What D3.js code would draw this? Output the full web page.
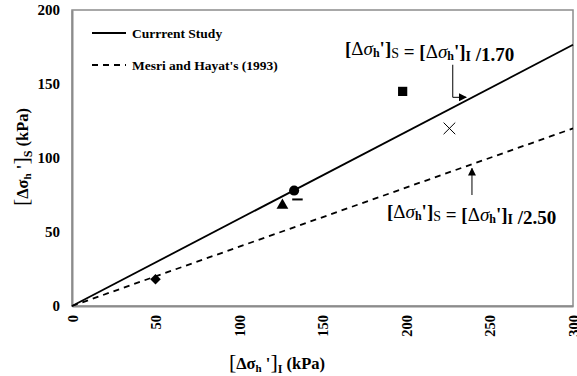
<!DOCTYPE html>
<html>
<head>
<meta charset="utf-8">
<script src="https://cdn.jsdelivr.net/npm/d3@7"></script>
<style>
  body { margin: 0; background: #fff; }
  text { font-family: "Liberation Serif", "Times New Roman", serif; font-weight: bold; fill: #000; }
</style>
</head>
<body>
<div id="chart"></div>
<script>
// Chart data
const xTicks = [0, 50, 100, 150, 200, 250, 300];
const yTicks = [0, 50, 100, 150, 200];
const pointX = [50, 126, 133, 135, 198, 226];
const pointY = [18, 68, 78, 72, 145, 120];
const pointShape = ['diamond', 'triangle', 'circle', 'dash', 'square', 'times'];
const lineRatios = [1.70, 2.50];
const lineLabels = ['Currrent Study', "Mesri and Hayat's (1993)"];
const ratioLabels = ['/1.70', '/2.50'];

const width = 577, height = 376;
const margin = { top: 10, right: 4, bottom: 70, left: 72 };
const w = width - margin.left - margin.right;
const h = height - margin.top - margin.bottom;

const svg = d3.select('#chart').append('svg')
    .attr('width', width)
    .attr('height', height);

const g = svg.append('g')
    .attr('transform', `translate(${margin.left},${margin.top})`);

const x = d3.scaleLinear().domain([0, 300]).range([0, w]);
const y = d3.scaleLinear().domain([0, 200]).range([h, 0]);

// frame
g.append('rect')
    .attr('x', 0).attr('y', 0)
    .attr('width', w).attr('height', h)
    .attr('fill', 'none')
    .attr('stroke', '#8c8c8c')
    .attr('stroke-width', 1.5);

// axes (labels only, no tick marks)
const xAxis = g.append('g')
    .attr('transform', `translate(0,${h})`)
    .call(d3.axisBottom(x).tickValues(xTicks).tickSize(0).tickPadding(8));
xAxis.select('.domain').attr('stroke', '#8c8c8c').attr('stroke-width', 2);
xAxis.selectAll('text')
    .attr('font-size', 14.5)
    .attr('font-family', '"Liberation Serif", serif')
    .attr('font-weight', 'bold')
    .attr('transform', 'rotate(-90)')
    .attr('text-anchor', 'end')
    .attr('dy', '0.35em')
    .attr('x', -9)
    .attr('y', 0);

const yAxis = g.append('g')
    .call(d3.axisLeft(y).tickValues(yTicks).tickSize(0).tickPadding(12));
yAxis.select('.domain').attr('stroke', '#8c8c8c').attr('stroke-width', 2);
yAxis.selectAll('text')
    .attr('font-size', 15)
    .attr('font-family', '"Liberation Serif", serif')
    .attr('font-weight', 'bold');

// fitted lines
const lineStyles = [null, '6,5'];
lineRatios.forEach((r, i) => {
    const line = d3.line()
        .x(d => x(d))
        .y(d => y(d / r));
    g.append('path')
        .datum([0, 300])
        .attr('d', line)
        .attr('fill', 'none')
        .attr('stroke', '#000')
        .attr('stroke-width', 1.8)
        .attr('stroke-dasharray', lineStyles[i]);
});

// markers
const dashSymbol = {
    draw(ctx, size) {
        const half = Math.sqrt(size) / 2;
        ctx.moveTo(-half, 0);
        ctx.lineTo(half, 0);
    }
};
const diamondSymbol = {
    draw(ctx, size) {
        const r = Math.sqrt(size / 2);
        ctx.moveTo(0, -r);
        ctx.lineTo(r, 0);
        ctx.lineTo(0, r);
        ctx.lineTo(-r, 0);
        ctx.closePath();
    }
};
const symbolTypes = {
    diamond: diamondSymbol,
    triangle: d3.symbolTriangle,
    circle: d3.symbolCircle,
    square: d3.symbolSquare,
    times: d3.symbolTimes || d3.symbolX,
    dash: dashSymbol
};
const symbolSizes = { diamond: 55, triangle: 60, circle: 80, square: 85, times: 90, dash: 110 };

pointX.forEach((px, i) => {
    const shape = pointShape[i];
    const stroked = shape === 'times' || shape === 'dash';
    g.append('path')
        .attr('d', d3.symbol().type(symbolTypes[shape]).size(symbolSizes[shape])())
        .attr('transform', `translate(${x(px)},${y(pointY[i])})`)
        .attr('fill', stroked ? 'none' : '#000')
        .attr('stroke', stroked ? '#000' : 'none')
        .attr('stroke-width', shape === 'dash' ? 2 : 1);
});

// legend
const legend = g.append('g').attr('transform', 'translate(20,23)');
lineLabels.forEach((lbl, i) => {
    const row = legend.append('g').attr('transform', `translate(0,${i * 32})`);
    row.append('line')
        .attr('x1', 0).attr('x2', 34)
        .attr('y1', 0).attr('y2', 0)
        .attr('stroke', '#000')
        .attr('stroke-width', 1.8)
        .attr('stroke-dasharray', lineStyles[i]);
    row.append('text')
        .attr('x', 40)
        .attr('dy', '0.35em')
        .attr('font-size', 13.5)
        .text(lbl);
});

// equation label builder
const equation = (parent, xPos, yPos, ratio) => {
    const t = parent.append('text')
        .attr('x', xPos)
        .attr('y', yPos)
        .attr('font-size', 19);
    const part = (txt, opts = {}) => {
        const s = t.append('tspan').text(txt);
        if (opts.weight) s.attr('font-weight', opts.weight);
        if (opts.style) s.attr('font-style', opts.style);
        if (opts.size) s.attr('font-size', opts.size);
        if (opts.dy) s.attr('dy', opts.dy);
        return s;
    };
    const side = (sub) => {
        part('[');
        part('Δ', { weight: 'normal' });
        part('σ', { weight: 'normal', style: 'italic' });
        part('h', { size: 12, dy: 2 });
        part("']", { dy: -2 });
        part(sub, { size: 14, dy: 3, weight: sub === 'S' ? 'normal' : 'bold' });
        part('', { dy: -3 });
    };
    side('S');
    part(' = ');
    side('I');
    part(' ' + ratio);
    return t;
};

equation(g, 273, 45, ratioLabels[0]);
equation(g, 315, 208, ratioLabels[1]);

// arrows
svg.append('defs').append('marker')
    .attr('id', 'arrow')
    .attr('viewBox', '0 0 10 10')
    .attr('refX', 9).attr('refY', 5)
    .attr('markerWidth', 8).attr('markerHeight', 8)
    .attr('markerUnits', 'userSpaceOnUse')
    .attr('orient', 'auto')
    .append('path')
    .attr('d', 'M0,0 L10,5 L0,10 Z')
    .attr('fill', '#000');

const ax1 = x(228);
g.append('path')
    .attr('d', `M${ax1},${y(163)} V${y(141)} H${x(236)}`)
    .attr('fill', 'none')
    .attr('stroke', '#000')
    .attr('stroke-width', 1)
    .attr('marker-end', 'url(#arrow)');

const ax2 = x(239.5);
g.append('path')
    .attr('d', `M${ax2},${y(75)} V${y(93)}`)
    .attr('fill', 'none')
    .attr('stroke', '#000')
    .attr('stroke-width', 1)
    .attr('marker-end', 'url(#arrow)');

// axis titles
const title = (parent, sub) => {
    const t = parent.append('text').attr('font-size', 16.5).attr('text-anchor', 'middle');
    t.append('tspan').text('[').attr('font-size', 22).attr('font-weight', 'normal');
    t.append('tspan').text('Δσ');
    t.append('tspan').text('h').attr('font-size', 11).attr('dy', 3);
    t.append('tspan').text(" '").attr('dy', -3);
    t.append('tspan').text(']').attr('font-size', 22).attr('font-weight', 'normal');
    t.append('tspan').text(sub).attr('font-size', 12).attr('dy', 4);
    t.append('tspan').text(' (kPa)').attr('dy', -4);
    return t;
};

title(svg, 'I').attr('x', 277).attr('y', 369);
title(svg, 'S').attr('transform', 'translate(28,157) rotate(-90)');
</script>
</body>
</html>
